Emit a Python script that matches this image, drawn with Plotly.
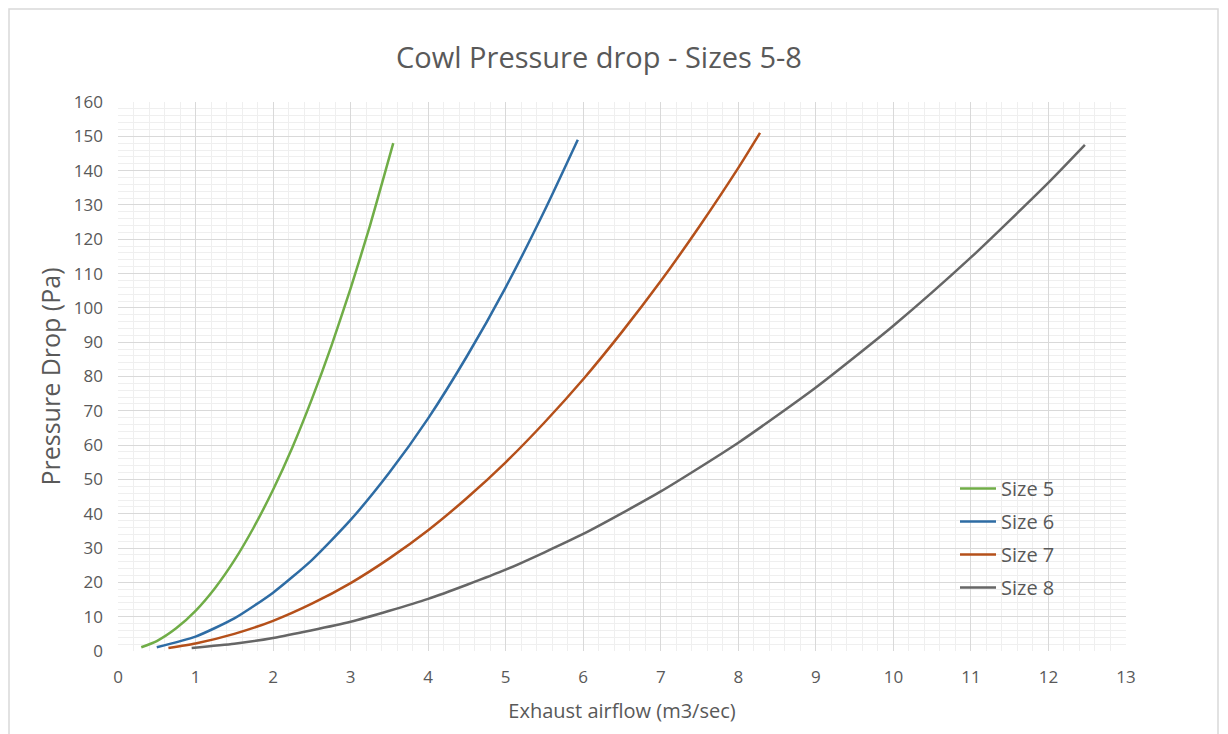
import plotly.graph_objects as go

# Data
size5_x = [0.3, 0.5, 0.75, 1.0, 1.25, 1.5, 1.75, 2.0, 2.25, 2.5, 2.75, 3.0, 3.25, 3.55]
size5_y = [1.1, 2.9, 6.6, 11.7, 18.3, 26.4, 36.0, 47.0, 59.4, 73.4, 88.8, 105.7, 124.0, 148.0]

size6_x = [0.5, 1.0, 1.5, 2.0, 2.5, 3.0, 3.5, 4.0, 4.5, 5.0, 5.5, 5.93]
size6_y = [1.1, 4.2, 9.5, 17.0, 26.5, 38.2, 52.0, 67.8, 85.9, 106.0, 128.3, 149.0]

size7_x = [0.65, 1.0, 1.5, 2.0, 2.5, 3.0, 3.5, 4.0, 4.5, 5.0, 5.5, 6.0, 6.5, 7.0, 7.5, 8.0, 8.28]
size7_y = [0.9, 2.2, 5.0, 8.8, 13.8, 19.8, 27.0, 35.2, 44.6, 55.0, 66.6, 79.2, 93.0, 107.8, 123.8, 140.8, 151.0]

size8_x = [0.95, 1.5, 2.0, 3.0, 4.0, 5.0, 6.0, 7.0, 8.0, 9.0, 10.0, 11.0, 12.0, 12.47]
size8_y = [0.9, 2.1, 3.8, 8.5, 15.2, 23.7, 34.1, 46.5, 60.7, 76.8, 94.8, 114.7, 136.5, 147.5]

series = [
    ("Size 5", size5_x, size5_y, "#70AD47"),
    ("Size 6", size6_x, size6_y, "#2E6CA4"),
    ("Size 7", size7_x, size7_y, "#B5501A"),
    ("Size 8", size8_x, size8_y, "#666666"),
]

FONT = "Open Sans, Noto Sans, sans-serif"
TXT = "#595959"

# page body has an 8px margin, so the figure is sized/offset to compensate
W, H = 1220, 726
L, R, T, B = 110, 102, 94, 83
PW, PH = W - L - R, H - T - B

fig = go.Figure()
for i, (name, xs, ys, col) in enumerate(series):
    fig.add_trace(go.Scatter(
        x=xs, y=ys, name=name, mode="lines",
        line=dict(color=col, width=2.5, shape="spline", smoothing=0.6),
        legendgroup=f"g{i}",
    ))

fig.update_layout(
    width=W, height=H,
    margin=dict(l=L, r=R, t=T, b=B, autoexpand=False),
    paper_bgcolor="white", plot_bgcolor="white",
    font=dict(family=FONT, color=TXT, size=16),
    title=dict(text="Cowl Pressure drop - Sizes 5-8", x=(599 - 8) / W, xanchor="center",
               y=1 - 50 / H, yref="container", yanchor="middle",
               font=dict(size=29, color=TXT, family=FONT)),
    showlegend=True,
    legend=dict(x=(955 - 118) / PW, y=(651 - 469) / PH, xanchor="left", yanchor="top",
                bgcolor="rgba(0,0,0,0)", font=dict(size=20, color=TXT),
                tracegroupgap=4, itemwidth=36),
    xaxis=dict(range=[0, 13], dtick=1, tick0=0, showgrid=True,
               gridcolor="#D9D9D9", gridwidth=1, zeroline=False,
               showline=False, ticks="", tickfont=dict(size=17, color=TXT),
               ticklabelstandoff=14,
               minor=dict(dtick=0.2, showgrid=True, gridcolor="#EFEFEF", gridwidth=1),
               title=dict(text="Exhaust airflow (m3/sec)", font=dict(size=20, color=TXT), standoff=16)),
    yaxis=dict(range=[0, 160], dtick=10, tick0=0, showgrid=True,
               gridcolor="#D9D9D9", gridwidth=1, zeroline=False,
               showline=False, ticks="", tickfont=dict(size=17, color=TXT),
               ticklabelstandoff=14,
               minor=dict(dtick=2, showgrid=True, gridcolor="#EFEFEF", gridwidth=1),
               title=dict(text="Pressure Drop (Pa)", font=dict(size=25, color=TXT), standoff=6)),
)

# outer chart border (in figure pixels, converted to paper coordinates)
fig.add_shape(type="rect", xref="paper", yref="paper",
              x0=(1 - L) / PW, x1=(1210 - L) / PW,
              y0=(T + PH - 740) / PH, y1=(T + PH - 1) / PH,
              line=dict(color="#D9D9D9", width=1.5), fillcolor="rgba(0,0,0,0)", layer="below")

fig.write_html("out.html")
